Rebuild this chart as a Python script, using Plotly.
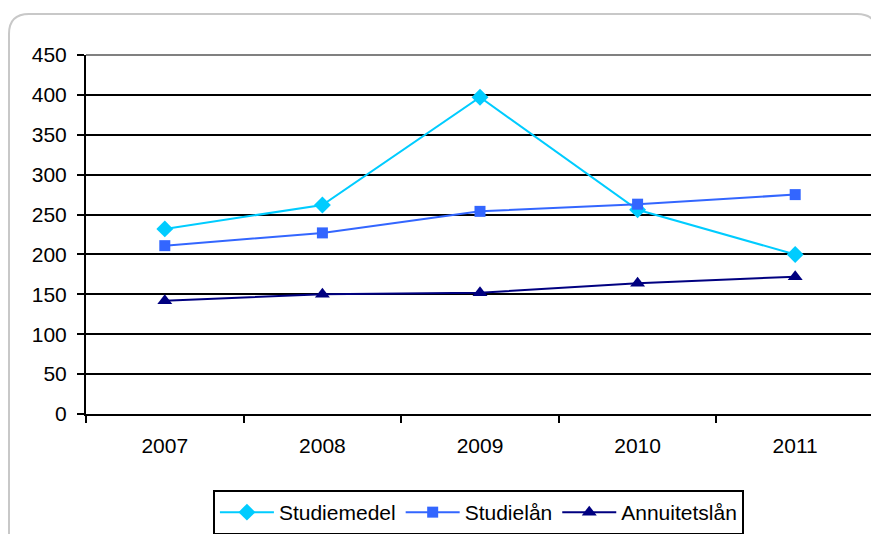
import plotly.graph_objects as go

years = ["2007", "2008", "2009", "2010", "2011"]
studiemedel = [232, 262, 397, 256, 200]
studielan = [211, 227, 254, 263, 275]
annuitetslan = [142, 150, 152, 164, 172]

# page body has an 8px margin, so the figure sits at (8, 8) in the window
W, H = 871, 526
L, R, T, B = 78, 5, 47, 120
pw, ph = W - L - R, H - T - B


def px(x):
    return (x - L) / pw


def py(y):
    return (H - B - y) / ph


def rounded_rect(x0, y0, x1, y1, r):
    # path in paper coords, built from pixel corners
    pts = [
        "M %f,%f" % (px(x0 + r), py(y0)),
        "L %f,%f" % (px(x1 - r), py(y0)),
        "Q %f,%f %f,%f" % (px(x1), py(y0), px(x1), py(y0 + r)),
        "L %f,%f" % (px(x1), py(y1 - r)),
        "Q %f,%f %f,%f" % (px(x1), py(y1), px(x1 - r), py(y1)),
        "L %f,%f" % (px(x0 + r), py(y1)),
        "Q %f,%f %f,%f" % (px(x0), py(y1), px(x0), py(y1 - r)),
        "L %f,%f" % (px(x0), py(y0 + r)),
        "Q %f,%f %f,%f" % (px(x0), py(y0), px(x0 + r), py(y0)),
        "Z",
    ]
    return " ".join(pts)


fig = go.Figure()
fig.add_trace(go.Scatter(x=years, y=studiemedel, name="Studiemedel", mode="lines+markers",
                         line=dict(color="#00CCFF", width=2),
                         marker=dict(symbol="diamond", size=13, color="#00CCFF")))
fig.add_trace(go.Scatter(x=years, y=studielan, name="Studielån", mode="lines+markers",
                         line=dict(color="#3366FF", width=2),
                         marker=dict(symbol="square", size=11, color="#3366FF")))
fig.add_trace(go.Scatter(x=years, y=annuitetslan, name="Annuitetslån", mode="lines+markers",
                         line=dict(color="#000080", width=2),
                         marker=dict(symbol="triangle-up", size=13, color="#000080")))

# outer rounded frame
fig.add_shape(type="path", xref="paper", yref="paper", path=rounded_rect(1, 6, 869, 560, 20),
              line=dict(color="#C8C8C8", width=2), layer="below")
# gray top and right borders of plot area
fig.add_shape(type="line", xref="paper", yref="paper", x0=0, x1=1, y0=1, y1=1,
              line=dict(color="#808080", width=2))
fig.add_shape(type="line", xref="paper", yref="paper", x0=1, x1=1, y0=0, y1=1,
              line=dict(color="#808080", width=2))

fig.update_xaxes(type="category", range=[-0.5, 4.5], tickson="boundaries", ticks="outside",
                 ticklen=7, tickwidth=2, tickcolor="black", showgrid=False,
                 showline=True, linecolor="black", linewidth=2, ticklabelstandoff=12,
                 tickfont=dict(family="Liberation Sans, Arial", size=21, color="black"))
fig.update_yaxes(range=[0, 450], dtick=50, ticks="outside", ticklen=7, tickwidth=2,
                 tickcolor="black", showgrid=True, gridcolor="black", gridwidth=2,
                 showline=True, linecolor="black", linewidth=2, zeroline=False, ticklabelstandoff=6,
                 tickfont=dict(family="Liberation Sans, Arial", size=21, color="black"))

fig.update_layout(
    width=W, height=H,
    margin=dict(l=L, r=R, t=T, b=B, autoexpand=False),
    paper_bgcolor="white", plot_bgcolor="white",
    showlegend=True,
    legend=dict(orientation="h", x=0.498, xanchor="center", y=py(482), yanchor="top",
                bordercolor="black", borderwidth=2, bgcolor="white",
                font=dict(family="Liberation Sans, Arial", size=21, color="black"),
                itemwidth=54, tracegroupgap=0),
)

fig.write_html("out.html")
